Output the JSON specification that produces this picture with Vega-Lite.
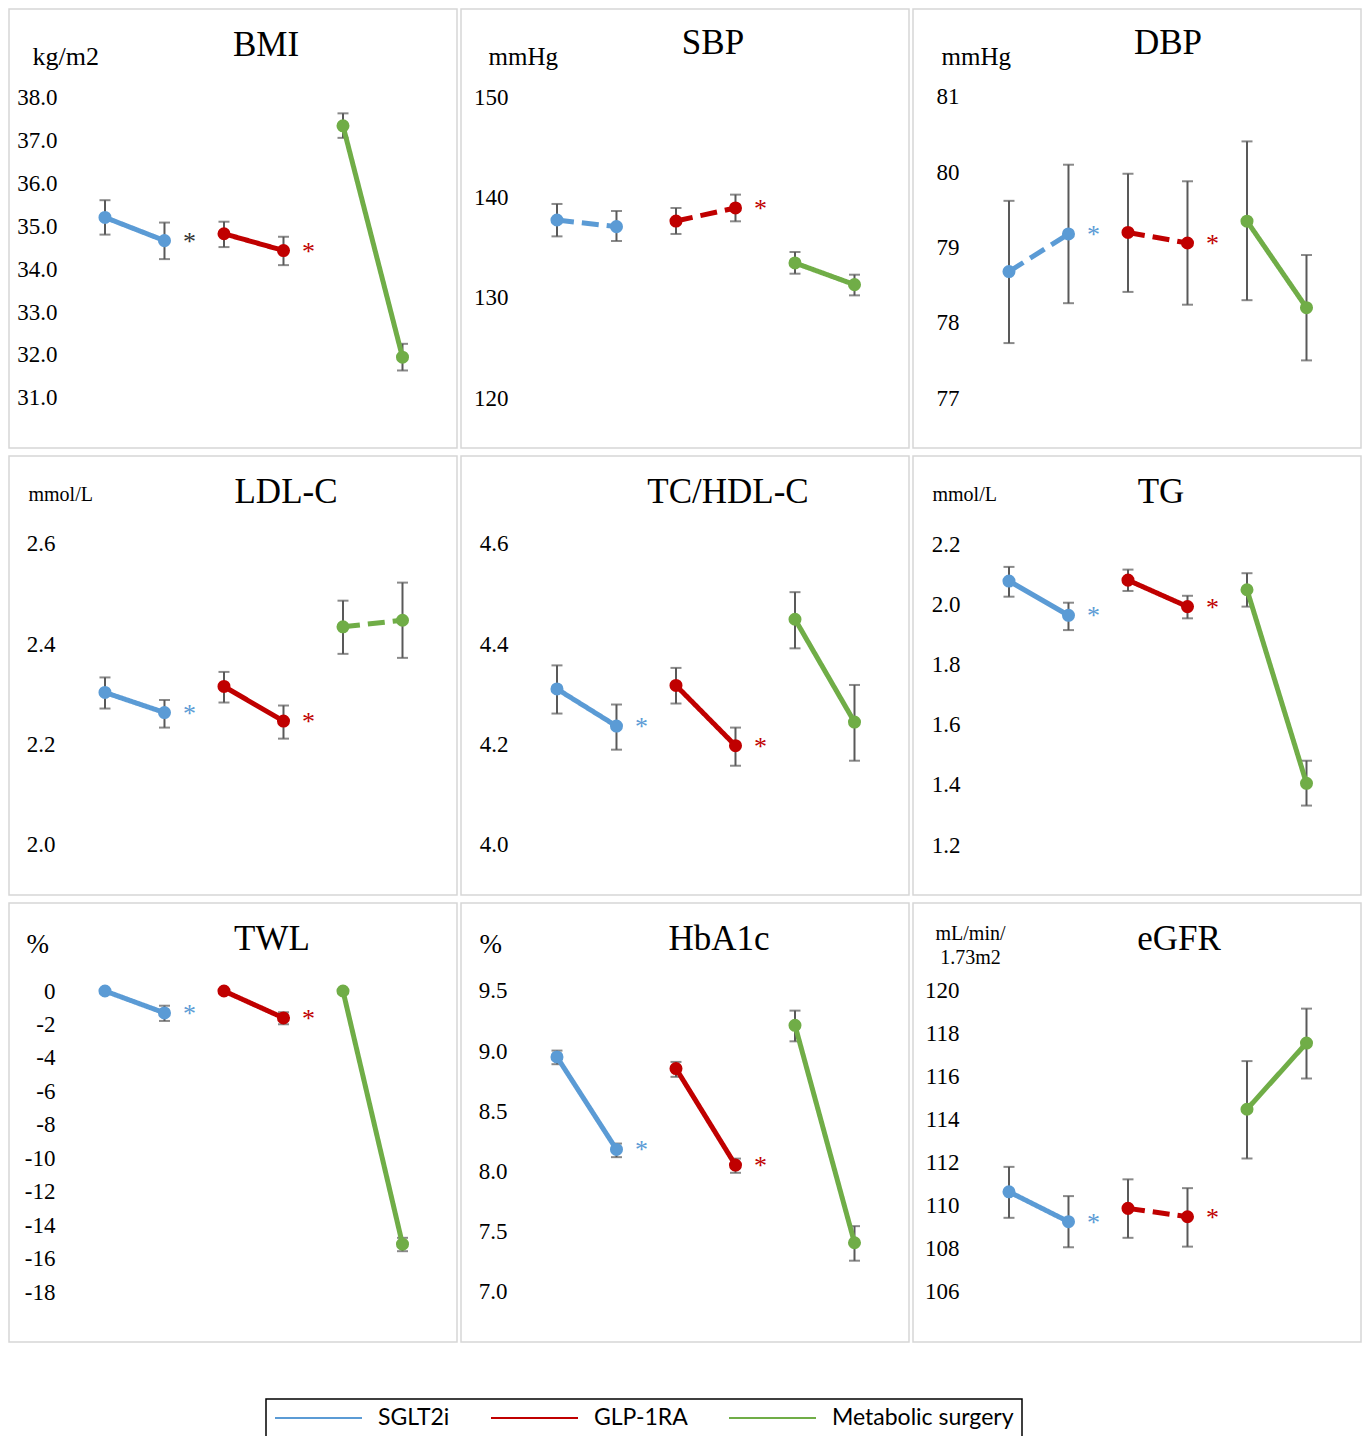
{
  "$schema": "https://vega.github.io/schema/vega-lite/v6.json",
  "background": "white",
  "padding": {"left": 8, "top": 8, "right": 0, "bottom": 0},
  "autosize": {"type": "pad"},
  "datasets": {
    "pts": [
      {"panel": "BMI", "group": "SGLT2i", "t": 1, "pos": 1, "v": 35.20, "lo": 34.80, "hi": 35.60, "pattern": "solid", "sig": true},
      {"panel": "BMI", "group": "SGLT2i", "t": 2, "pos": 2, "v": 34.66, "lo": 34.23, "hi": 35.08, "pattern": "solid", "sig": true},
      {"panel": "BMI", "group": "GLP-1RA", "t": 1, "pos": 3, "v": 34.82, "lo": 34.51, "hi": 35.10, "pattern": "solid", "sig": true},
      {"panel": "BMI", "group": "GLP-1RA", "t": 2, "pos": 4, "v": 34.43, "lo": 34.09, "hi": 34.75, "pattern": "solid", "sig": true},
      {"panel": "BMI", "group": "Metabolic surgery", "t": 1, "pos": 5, "v": 37.33, "lo": 37.05, "hi": 37.62, "pattern": "solid", "sig": false},
      {"panel": "BMI", "group": "Metabolic surgery", "t": 2, "pos": 6, "v": 31.95, "lo": 31.64, "hi": 32.26, "pattern": "solid", "sig": false},

      {"panel": "SBP", "group": "SGLT2i", "t": 1, "pos": 1, "v": 137.74, "lo": 136.11, "hi": 139.34, "pattern": "dashed", "sig": false},
      {"panel": "SBP", "group": "SGLT2i", "t": 2, "pos": 2, "v": 137.08, "lo": 135.65, "hi": 138.64, "pattern": "dashed", "sig": false},
      {"panel": "SBP", "group": "GLP-1RA", "t": 1, "pos": 3, "v": 137.64, "lo": 136.35, "hi": 138.94, "pattern": "dashed", "sig": true},
      {"panel": "SBP", "group": "GLP-1RA", "t": 2, "pos": 4, "v": 138.94, "lo": 137.61, "hi": 140.27, "pattern": "dashed", "sig": true},
      {"panel": "SBP", "group": "Metabolic surgery", "t": 1, "pos": 5, "v": 133.46, "lo": 132.39, "hi": 134.55, "pattern": "solid", "sig": false},
      {"panel": "SBP", "group": "Metabolic surgery", "t": 2, "pos": 6, "v": 131.30, "lo": 130.23, "hi": 132.29, "pattern": "solid", "sig": false},

      {"panel": "DBP", "group": "SGLT2i", "t": 1, "pos": 1, "v": 78.68, "lo": 77.73, "hi": 79.62, "pattern": "dashed", "sig": true},
      {"panel": "DBP", "group": "SGLT2i", "t": 2, "pos": 2, "v": 79.18, "lo": 78.26, "hi": 80.10, "pattern": "dashed", "sig": true},
      {"panel": "DBP", "group": "GLP-1RA", "t": 1, "pos": 3, "v": 79.20, "lo": 78.41, "hi": 79.98, "pattern": "dashed", "sig": true},
      {"panel": "DBP", "group": "GLP-1RA", "t": 2, "pos": 4, "v": 79.06, "lo": 78.24, "hi": 79.88, "pattern": "dashed", "sig": true},
      {"panel": "DBP", "group": "Metabolic surgery", "t": 1, "pos": 5, "v": 79.35, "lo": 78.30, "hi": 80.41, "pattern": "solid", "sig": false},
      {"panel": "DBP", "group": "Metabolic surgery", "t": 2, "pos": 6, "v": 78.20, "lo": 77.50, "hi": 78.90, "pattern": "solid", "sig": false},

      {"panel": "LDL-C", "group": "SGLT2i", "t": 1, "pos": 1, "v": 2.304, "lo": 2.272, "hi": 2.334, "pattern": "solid", "sig": true},
      {"panel": "LDL-C", "group": "SGLT2i", "t": 2, "pos": 2, "v": 2.264, "lo": 2.234, "hi": 2.289, "pattern": "solid", "sig": true},
      {"panel": "LDL-C", "group": "GLP-1RA", "t": 1, "pos": 3, "v": 2.316, "lo": 2.284, "hi": 2.345, "pattern": "solid", "sig": true},
      {"panel": "LDL-C", "group": "GLP-1RA", "t": 2, "pos": 4, "v": 2.247, "lo": 2.212, "hi": 2.278, "pattern": "solid", "sig": true},
      {"panel": "LDL-C", "group": "Metabolic surgery", "t": 1, "pos": 5, "v": 2.435, "lo": 2.381, "hi": 2.487, "pattern": "dashed", "sig": false},
      {"panel": "LDL-C", "group": "Metabolic surgery", "t": 2, "pos": 6, "v": 2.448, "lo": 2.373, "hi": 2.523, "pattern": "dashed", "sig": false},

      {"panel": "TC/HDL-C", "group": "SGLT2i", "t": 1, "pos": 1, "v": 4.311, "lo": 4.262, "hi": 4.358, "pattern": "solid", "sig": true},
      {"panel": "TC/HDL-C", "group": "SGLT2i", "t": 2, "pos": 2, "v": 4.237, "lo": 4.190, "hi": 4.280, "pattern": "solid", "sig": true},
      {"panel": "TC/HDL-C", "group": "GLP-1RA", "t": 1, "pos": 3, "v": 4.318, "lo": 4.282, "hi": 4.353, "pattern": "solid", "sig": true},
      {"panel": "TC/HDL-C", "group": "GLP-1RA", "t": 2, "pos": 4, "v": 4.198, "lo": 4.158, "hi": 4.234, "pattern": "solid", "sig": true},
      {"panel": "TC/HDL-C", "group": "Metabolic surgery", "t": 1, "pos": 5, "v": 4.450, "lo": 4.392, "hi": 4.504, "pattern": "solid", "sig": false},
      {"panel": "TC/HDL-C", "group": "Metabolic surgery", "t": 2, "pos": 6, "v": 4.245, "lo": 4.168, "hi": 4.319, "pattern": "solid", "sig": false},

      {"panel": "TG", "group": "SGLT2i", "t": 1, "pos": 1, "v": 2.077, "lo": 2.025, "hi": 2.124, "pattern": "solid", "sig": true},
      {"panel": "TG", "group": "SGLT2i", "t": 2, "pos": 2, "v": 1.963, "lo": 1.914, "hi": 2.005, "pattern": "solid", "sig": true},
      {"panel": "TG", "group": "GLP-1RA", "t": 1, "pos": 3, "v": 2.080, "lo": 2.044, "hi": 2.115, "pattern": "solid", "sig": true},
      {"panel": "TG", "group": "GLP-1RA", "t": 2, "pos": 4, "v": 1.992, "lo": 1.953, "hi": 2.028, "pattern": "solid", "sig": true},
      {"panel": "TG", "group": "Metabolic surgery", "t": 1, "pos": 5, "v": 2.048, "lo": 1.992, "hi": 2.103, "pattern": "solid", "sig": false},
      {"panel": "TG", "group": "Metabolic surgery", "t": 2, "pos": 6, "v": 1.405, "lo": 1.331, "hi": 1.480, "pattern": "solid", "sig": false},

      {"panel": "TWL", "group": "SGLT2i", "t": 1, "pos": 1, "v": 0, "lo": 0, "hi": 0, "pattern": "solid", "sig": true},
      {"panel": "TWL", "group": "SGLT2i", "t": 2, "pos": 2, "v": -1.31, "lo": -1.79, "hi": -0.88, "pattern": "solid", "sig": true},
      {"panel": "TWL", "group": "GLP-1RA", "t": 1, "pos": 3, "v": 0, "lo": 0, "hi": 0, "pattern": "solid", "sig": true},
      {"panel": "TWL", "group": "GLP-1RA", "t": 2, "pos": 4, "v": -1.61, "lo": -1.99, "hi": -1.27, "pattern": "solid", "sig": true},
      {"panel": "TWL", "group": "Metabolic surgery", "t": 1, "pos": 5, "v": 0, "lo": 0, "hi": 0, "pattern": "solid", "sig": false},
      {"panel": "TWL", "group": "Metabolic surgery", "t": 2, "pos": 6, "v": -15.14, "lo": -15.56, "hi": -14.76, "pattern": "solid", "sig": false},

      {"panel": "HbA1c", "group": "SGLT2i", "t": 1, "pos": 1, "v": 8.952, "lo": 8.892, "hi": 9.005, "pattern": "solid", "sig": true},
      {"panel": "HbA1c", "group": "SGLT2i", "t": 2, "pos": 2, "v": 8.184, "lo": 8.120, "hi": 8.233, "pattern": "solid", "sig": true},
      {"panel": "HbA1c", "group": "GLP-1RA", "t": 1, "pos": 3, "v": 8.856, "lo": 8.787, "hi": 8.911, "pattern": "solid", "sig": true},
      {"panel": "HbA1c", "group": "GLP-1RA", "t": 2, "pos": 4, "v": 8.054, "lo": 7.990, "hi": 8.108, "pattern": "solid", "sig": true},
      {"panel": "HbA1c", "group": "Metabolic surgery", "t": 1, "pos": 5, "v": 9.215, "lo": 9.082, "hi": 9.337, "pattern": "solid", "sig": false},
      {"panel": "HbA1c", "group": "Metabolic surgery", "t": 2, "pos": 6, "v": 7.409, "lo": 7.260, "hi": 7.547, "pattern": "solid", "sig": false},

      {"panel": "eGFR", "group": "SGLT2i", "t": 1, "pos": 1, "v": 110.66, "lo": 109.45, "hi": 111.82, "pattern": "solid", "sig": true},
      {"panel": "eGFR", "group": "SGLT2i", "t": 2, "pos": 2, "v": 109.27, "lo": 108.08, "hi": 110.46, "pattern": "solid", "sig": true},
      {"panel": "eGFR", "group": "GLP-1RA", "t": 1, "pos": 3, "v": 109.89, "lo": 108.52, "hi": 111.24, "pattern": "dashed", "sig": true},
      {"panel": "eGFR", "group": "GLP-1RA", "t": 2, "pos": 4, "v": 109.50, "lo": 108.11, "hi": 110.83, "pattern": "dashed", "sig": true},
      {"panel": "eGFR", "group": "Metabolic surgery", "t": 1, "pos": 5, "v": 114.50, "lo": 112.21, "hi": 116.74, "pattern": "solid", "sig": false},
      {"panel": "eGFR", "group": "Metabolic surgery", "t": 2, "pos": 6, "v": 117.58, "lo": 115.93, "hi": 119.18, "pattern": "solid", "sig": false}
    ],
    "ticks": [
      {"panel": "BMI", "v": 31}, {"panel": "BMI", "v": 32}, {"panel": "BMI", "v": 33}, {"panel": "BMI", "v": 34},
      {"panel": "BMI", "v": 35}, {"panel": "BMI", "v": 36}, {"panel": "BMI", "v": 37}, {"panel": "BMI", "v": 38},
      {"panel": "SBP", "v": 120}, {"panel": "SBP", "v": 130}, {"panel": "SBP", "v": 140}, {"panel": "SBP", "v": 150},
      {"panel": "DBP", "v": 77}, {"panel": "DBP", "v": 78}, {"panel": "DBP", "v": 79}, {"panel": "DBP", "v": 80}, {"panel": "DBP", "v": 81},
      {"panel": "LDL-C", "v": 2.0}, {"panel": "LDL-C", "v": 2.2}, {"panel": "LDL-C", "v": 2.4}, {"panel": "LDL-C", "v": 2.6},
      {"panel": "TC/HDL-C", "v": 4.0}, {"panel": "TC/HDL-C", "v": 4.2}, {"panel": "TC/HDL-C", "v": 4.4}, {"panel": "TC/HDL-C", "v": 4.6},
      {"panel": "TG", "v": 1.2}, {"panel": "TG", "v": 1.4}, {"panel": "TG", "v": 1.6}, {"panel": "TG", "v": 1.8}, {"panel": "TG", "v": 2.0}, {"panel": "TG", "v": 2.2},
      {"panel": "TWL", "v": 0}, {"panel": "TWL", "v": -2}, {"panel": "TWL", "v": -4}, {"panel": "TWL", "v": -6}, {"panel": "TWL", "v": -8},
      {"panel": "TWL", "v": -10}, {"panel": "TWL", "v": -12}, {"panel": "TWL", "v": -14}, {"panel": "TWL", "v": -16}, {"panel": "TWL", "v": -18},
      {"panel": "HbA1c", "v": 7.0}, {"panel": "HbA1c", "v": 7.5}, {"panel": "HbA1c", "v": 8.0}, {"panel": "HbA1c", "v": 8.5}, {"panel": "HbA1c", "v": 9.0}, {"panel": "HbA1c", "v": 9.5},
      {"panel": "eGFR", "v": 106}, {"panel": "eGFR", "v": 108}, {"panel": "eGFR", "v": 110}, {"panel": "eGFR", "v": 112},
      {"panel": "eGFR", "v": 114}, {"panel": "eGFR", "v": 116}, {"panel": "eGFR", "v": 118}, {"panel": "eGFR", "v": 120}
    ]
  },
  "columns": 3,
  "spacing": {"row": 8, "column": 4},
  "bounds": "flush",
  "resolve": {"scale": {"x": "independent", "y": "independent", "color": "shared", "strokeDash": "shared"}},
  "concat": [
    {
      "title": {"text": "BMI", "dx": 33, "offset": -54},
      "width": 448, "height": 439,
      "data": {"name": "pts"},
      "transform": [{"filter": "datum.panel === 'BMI'"}],
      "encoding": {
        "x": {"field": "pos", "type": "quantitative", "scale": {"domain": [-0.613, 6.916], "nice": false, "zero": false}, "axis": null},
        "y": {"field": "v", "type": "quantitative", "scale": {"domain": [29.837, 40.047], "nice": false, "zero": false},
              "axis": {"values": [31, 32, 33, 34, 35, 36, 37, 38], "format": ".1f", "offset": -48, "title": "kg/m2", "titleX": -25, "titleY": 55, "titleFontSize": 26}}
      },
      "layer": [
        {"data": {"name": "ticks"}, "transform": [{"filter": "datum.panel === 'BMI'"}],
         "mark": {"type": "rule", "color": "#d9d9d9", "strokeWidth": 1.5},
         "encoding": {"x": {"datum": 0.5, "type": "quantitative"}, "x2": {"datum": 6.5}}},
        {"mark": {"type": "rule", "color": "#595959", "strokeWidth": 2},
         "encoding": {"y": {"field": "lo", "type": "quantitative"}, "y2": {"field": "hi"}}},
        {"mark": {"type": "tick", "orient": "horizontal", "size": 11, "thickness": 2, "color": "#595959"},
         "encoding": {"y": {"field": "lo", "type": "quantitative"}}},
        {"mark": {"type": "tick", "orient": "horizontal", "size": 11, "thickness": 2, "color": "#595959"},
         "encoding": {"y": {"field": "hi", "type": "quantitative"}}},
        {"mark": {"type": "line", "strokeWidth": 5},
         "encoding": {
           "color": {"field": "group", "type": "nominal", "scale": {"domain": ["SGLT2i", "GLP-1RA", "Metabolic surgery"], "range": ["#5b9bd5", "#c00000", "#70ad47"]},
             "legend": {"title": null}},
           "strokeDash": {"field": "pattern", "type": "nominal", "scale": {"domain": ["solid", "dashed"], "range": [[1, 0], [17, 8]]}, "legend": null}}},
        {"mark": {"type": "point", "filled": true, "size": 170, "opacity": 1},
         "encoding": {"color": {"field": "group", "type": "nominal", "legend": null}}},
        {"transform": [{"filter": "datum.sig && datum.t === 2"}],
         "mark": {"type": "text", "text": "*", "fontSize": 26, "dx": 25, "dy": 9, "baseline": "alphabetic", "align": "center"},
         "encoding": {"color": {"condition": {"test": "datum.group === 'SGLT2i'", "value": "#333333"}, "field": "group", "type": "nominal", "legend": null}}}
      ]
    },
    {
      "title": {"text": "SBP", "dx": 28, "offset": -52},
      "width": 448, "height": 439,
      "data": {"name": "pts"},
      "transform": [{"filter": "datum.panel === 'SBP'"}],
      "encoding": {
        "x": {"field": "pos", "type": "quantitative", "scale": {"domain": [-0.613, 6.916], "nice": false, "zero": false}, "axis": null},
        "y": {"field": "v", "type": "quantitative", "scale": {"domain": [115.017, 158.771], "nice": false, "zero": false},
              "axis": {"values": [120, 130, 140, 150], "format": "d", "offset": -47, "title": "mmHg", "titleX": -20, "titleY": 55, "titleFontSize": 25}}
      },
      "layer": [
        {"data": {"name": "ticks"}, "transform": [{"filter": "datum.panel === 'SBP'"}],
         "mark": {"type": "rule", "color": "#d9d9d9", "strokeWidth": 1.5},
         "encoding": {"x": {"datum": 0.5, "type": "quantitative"}, "x2": {"datum": 6.5}}},
        {"mark": {"type": "rule", "color": "#595959", "strokeWidth": 2},
         "encoding": {"y": {"field": "lo", "type": "quantitative"}, "y2": {"field": "hi"}}},
        {"mark": {"type": "tick", "orient": "horizontal", "size": 11, "thickness": 2, "color": "#595959"},
         "encoding": {"y": {"field": "lo", "type": "quantitative"}}},
        {"mark": {"type": "tick", "orient": "horizontal", "size": 11, "thickness": 2, "color": "#595959"},
         "encoding": {"y": {"field": "hi", "type": "quantitative"}}},
        {"mark": {"type": "line", "strokeWidth": 5},
         "encoding": {"color": {"field": "group", "type": "nominal", "legend": null}, "strokeDash": {"field": "pattern", "type": "nominal", "legend": null}}},
        {"mark": {"type": "point", "filled": true, "size": 170, "opacity": 1},
         "encoding": {"color": {"field": "group", "type": "nominal", "legend": null}}},
        {"transform": [{"filter": "datum.sig && datum.t === 2"}],
         "mark": {"type": "text", "text": "*", "fontSize": 26, "dx": 25, "dy": 9, "baseline": "alphabetic", "align": "center"},
         "encoding": {"color": {"field": "group", "type": "nominal", "legend": null}}}
      ]
    },
    {
      "title": {"text": "DBP", "dx": 31, "offset": -52},
      "width": 448, "height": 439,
      "data": {"name": "pts"},
      "transform": [{"filter": "datum.panel === 'DBP'"}],
      "encoding": {
        "x": {"field": "pos", "type": "quantitative", "scale": {"domain": [-0.613, 6.916], "nice": false, "zero": false}, "axis": null},
        "y": {"field": "v", "type": "quantitative", "scale": {"domain": [76.336, 82.169], "nice": false, "zero": false},
              "axis": {"values": [77, 78, 79, 80, 81], "format": "d", "offset": -46, "title": "mmHg", "titleX": -18, "titleY": 55, "titleFontSize": 25}}
      },
      "layer": [
        {"data": {"name": "ticks"}, "transform": [{"filter": "datum.panel === 'DBP'"}],
         "mark": {"type": "rule", "color": "#d9d9d9", "strokeWidth": 1.5},
         "encoding": {"x": {"datum": 0.5, "type": "quantitative"}, "x2": {"datum": 6.5}}},
        {"mark": {"type": "rule", "color": "#595959", "strokeWidth": 2},
         "encoding": {"y": {"field": "lo", "type": "quantitative"}, "y2": {"field": "hi"}}},
        {"mark": {"type": "tick", "orient": "horizontal", "size": 11, "thickness": 2, "color": "#595959"},
         "encoding": {"y": {"field": "lo", "type": "quantitative"}}},
        {"mark": {"type": "tick", "orient": "horizontal", "size": 11, "thickness": 2, "color": "#595959"},
         "encoding": {"y": {"field": "hi", "type": "quantitative"}}},
        {"mark": {"type": "line", "strokeWidth": 5},
         "encoding": {"color": {"field": "group", "type": "nominal", "legend": null}, "strokeDash": {"field": "pattern", "type": "nominal", "legend": null}}},
        {"mark": {"type": "point", "filled": true, "size": 170, "opacity": 1},
         "encoding": {"color": {"field": "group", "type": "nominal", "legend": null}}},
        {"transform": [{"filter": "datum.sig && datum.t === 2"}],
         "mark": {"type": "text", "text": "*", "fontSize": 26, "dx": 25, "dy": 9, "baseline": "alphabetic", "align": "center"},
         "encoding": {"color": {"field": "group", "type": "nominal", "legend": null}}}
      ]
    },
    {
      "title": {"text": "LDL-C", "dx": 53, "offset": -54},
      "width": 448, "height": 439,
      "data": {"name": "pts"},
      "transform": [{"filter": "datum.panel === 'LDL-C'"}],
      "encoding": {
        "x": {"field": "pos", "type": "quantitative", "scale": {"domain": [-0.613, 6.916], "nice": false, "zero": false}, "axis": null},
        "y": {"field": "v", "type": "quantitative", "scale": {"domain": [1.9003, 2.7754], "nice": false, "zero": false},
              "axis": {"values": [2.0, 2.2, 2.4, 2.6], "format": ".1f", "offset": -46, "title": "mmol/L", "titleX": -27, "titleY": 44, "titleFontSize": 20}}
      },
      "layer": [
        {"data": {"name": "ticks"}, "transform": [{"filter": "datum.panel === 'LDL-C'"}],
         "mark": {"type": "rule", "color": "#d9d9d9", "strokeWidth": 1.5},
         "encoding": {"x": {"datum": 0.5, "type": "quantitative"}, "x2": {"datum": 6.5}}},
        {"mark": {"type": "rule", "color": "#595959", "strokeWidth": 2},
         "encoding": {"y": {"field": "lo", "type": "quantitative"}, "y2": {"field": "hi"}}},
        {"mark": {"type": "tick", "orient": "horizontal", "size": 11, "thickness": 2, "color": "#595959"},
         "encoding": {"y": {"field": "lo", "type": "quantitative"}}},
        {"mark": {"type": "tick", "orient": "horizontal", "size": 11, "thickness": 2, "color": "#595959"},
         "encoding": {"y": {"field": "hi", "type": "quantitative"}}},
        {"mark": {"type": "line", "strokeWidth": 5},
         "encoding": {"color": {"field": "group", "type": "nominal", "legend": null}, "strokeDash": {"field": "pattern", "type": "nominal", "legend": null}}},
        {"mark": {"type": "point", "filled": true, "size": 170, "opacity": 1},
         "encoding": {"color": {"field": "group", "type": "nominal", "legend": null}}},
        {"transform": [{"filter": "datum.sig && datum.t === 2"}],
         "mark": {"type": "text", "text": "*", "fontSize": 26, "dx": 25, "dy": 9, "baseline": "alphabetic", "align": "center"},
         "encoding": {"color": {"field": "group", "type": "nominal", "legend": null}}}
      ]
    },
    {
      "title": {"text": "TC/HDL-C", "dx": 43, "offset": -54},
      "width": 448, "height": 439,
      "data": {"name": "pts"},
      "transform": [{"filter": "datum.panel === 'TC/HDL-C'"}],
      "encoding": {
        "x": {"field": "pos", "type": "quantitative", "scale": {"domain": [-0.613, 6.916], "nice": false, "zero": false}, "axis": null},
        "y": {"field": "v", "type": "quantitative", "scale": {"domain": [3.9003, 4.7754], "nice": false, "zero": false},
              "axis": {"values": [4.0, 4.2, 4.4, 4.6], "format": ".1f", "offset": -47, "title": null}}
      },
      "layer": [
        {"data": {"name": "ticks"}, "transform": [{"filter": "datum.panel === 'TC/HDL-C'"}],
         "mark": {"type": "rule", "color": "#d9d9d9", "strokeWidth": 1.5},
         "encoding": {"x": {"datum": 0.5, "type": "quantitative"}, "x2": {"datum": 6.5}}},
        {"mark": {"type": "rule", "color": "#595959", "strokeWidth": 2},
         "encoding": {"y": {"field": "lo", "type": "quantitative"}, "y2": {"field": "hi"}}},
        {"mark": {"type": "tick", "orient": "horizontal", "size": 11, "thickness": 2, "color": "#595959"},
         "encoding": {"y": {"field": "lo", "type": "quantitative"}}},
        {"mark": {"type": "tick", "orient": "horizontal", "size": 11, "thickness": 2, "color": "#595959"},
         "encoding": {"y": {"field": "hi", "type": "quantitative"}}},
        {"mark": {"type": "line", "strokeWidth": 5},
         "encoding": {"color": {"field": "group", "type": "nominal", "legend": null}, "strokeDash": {"field": "pattern", "type": "nominal", "legend": null}}},
        {"mark": {"type": "point", "filled": true, "size": 170, "opacity": 1},
         "encoding": {"color": {"field": "group", "type": "nominal", "legend": null}}},
        {"transform": [{"filter": "datum.sig && datum.t === 2"}],
         "mark": {"type": "text", "text": "*", "fontSize": 26, "dx": 25, "dy": 9, "baseline": "alphabetic", "align": "center"},
         "encoding": {"color": {"field": "group", "type": "nominal", "legend": null}}}
      ]
    },
    {
      "title": {"text": "TG", "dx": 24, "offset": -54},
      "width": 448, "height": 439,
      "data": {"name": "pts"},
      "transform": [{"filter": "datum.panel === 'TG'"}],
      "encoding": {
        "x": {"field": "pos", "type": "quantitative", "scale": {"domain": [-0.613, 6.916], "nice": false, "zero": false}, "axis": null},
        "y": {"field": "v", "type": "quantitative", "scale": {"domain": [1.0339, 2.4924], "nice": false, "zero": false},
              "axis": {"values": [1.2, 1.4, 1.6, 1.8, 2.0, 2.2], "format": ".1f", "offset": -47, "title": "mmol/L", "titleX": -28, "titleY": 44, "titleFontSize": 20}}
      },
      "layer": [
        {"data": {"name": "ticks"}, "transform": [{"filter": "datum.panel === 'TG'"}],
         "mark": {"type": "rule", "color": "#d9d9d9", "strokeWidth": 1.5},
         "encoding": {"x": {"datum": 0.5, "type": "quantitative"}, "x2": {"datum": 6.5}}},
        {"mark": {"type": "rule", "color": "#595959", "strokeWidth": 2},
         "encoding": {"y": {"field": "lo", "type": "quantitative"}, "y2": {"field": "hi"}}},
        {"mark": {"type": "tick", "orient": "horizontal", "size": 11, "thickness": 2, "color": "#595959"},
         "encoding": {"y": {"field": "lo", "type": "quantitative"}}},
        {"mark": {"type": "tick", "orient": "horizontal", "size": 11, "thickness": 2, "color": "#595959"},
         "encoding": {"y": {"field": "hi", "type": "quantitative"}}},
        {"mark": {"type": "line", "strokeWidth": 5},
         "encoding": {"color": {"field": "group", "type": "nominal", "legend": null}, "strokeDash": {"field": "pattern", "type": "nominal", "legend": null}}},
        {"mark": {"type": "point", "filled": true, "size": 170, "opacity": 1},
         "encoding": {"color": {"field": "group", "type": "nominal", "legend": null}}},
        {"transform": [{"filter": "datum.sig && datum.t === 2"}],
         "mark": {"type": "text", "text": "*", "fontSize": 26, "dx": 25, "dy": 9, "baseline": "alphabetic", "align": "center"},
         "encoding": {"color": {"field": "group", "type": "nominal", "legend": null}}}
      ]
    },
    {
      "title": {"text": "TWL", "dx": 39, "offset": -54},
      "width": 448, "height": 439,
      "data": {"name": "pts"},
      "transform": [{"filter": "datum.panel === 'TWL'"}],
      "encoding": {
        "x": {"field": "pos", "type": "quantitative", "scale": {"domain": [-0.613, 6.916], "nice": false, "zero": false}, "axis": null},
        "y": {"field": "v", "type": "quantitative", "scale": {"domain": [-20.99, 5.2625], "nice": false, "zero": false},
              "axis": {"values": [0, -2, -4, -6, -8, -10, -12, -14, -16, -18], "labelExpr": "'' + datum.value", "offset": -46, "title": "%", "titleX": -29, "titleY": 49, "titleFontSize": 27}}
      },
      "layer": [
        {"data": {"name": "ticks"}, "transform": [{"filter": "datum.panel === 'TWL'"}],
         "mark": {"type": "rule", "color": "#d9d9d9", "strokeWidth": 1.5},
         "encoding": {"x": {"datum": 0.5, "type": "quantitative"}, "x2": {"datum": 6.5}}},
        {"mark": {"type": "rule", "color": "#595959", "strokeWidth": 2},
         "encoding": {"y": {"field": "lo", "type": "quantitative"}, "y2": {"field": "hi"}}},
        {"mark": {"type": "tick", "orient": "horizontal", "size": 11, "thickness": 2, "color": "#595959"},
         "encoding": {"y": {"field": "lo", "type": "quantitative"}}},
        {"mark": {"type": "tick", "orient": "horizontal", "size": 11, "thickness": 2, "color": "#595959"},
         "encoding": {"y": {"field": "hi", "type": "quantitative"}}},
        {"mark": {"type": "line", "strokeWidth": 5},
         "encoding": {"color": {"field": "group", "type": "nominal", "legend": null}, "strokeDash": {"field": "pattern", "type": "nominal", "legend": null}}},
        {"mark": {"type": "point", "filled": true, "size": 170, "opacity": 1},
         "encoding": {"color": {"field": "group", "type": "nominal", "legend": null}}},
        {"transform": [{"filter": "datum.sig && datum.t === 2"}],
         "mark": {"type": "text", "text": "*", "fontSize": 26, "dx": 25, "dy": 9, "baseline": "alphabetic", "align": "center"},
         "encoding": {"color": {"field": "group", "type": "nominal", "legend": null}}}
      ]
    },
    {
      "title": {"text": "HbA1c", "dx": 34, "offset": -54},
      "width": 448, "height": 439,
      "data": {"name": "pts"},
      "transform": [{"filter": "datum.panel === 'HbA1c'"}],
      "encoding": {
        "x": {"field": "pos", "type": "quantitative", "scale": {"domain": [-0.613, 6.916], "nice": false, "zero": false}, "axis": null},
        "y": {"field": "v", "type": "quantitative", "scale": {"domain": [6.5847, 10.2309], "nice": false, "zero": false},
              "axis": {"values": [7.0, 7.5, 8.0, 8.5, 9.0, 9.5], "format": ".1f", "offset": -46, "title": "%", "titleX": -28, "titleY": 49, "titleFontSize": 27}}
      },
      "layer": [
        {"data": {"name": "ticks"}, "transform": [{"filter": "datum.panel === 'HbA1c'"}],
         "mark": {"type": "rule", "color": "#d9d9d9", "strokeWidth": 1.5},
         "encoding": {"x": {"datum": 0.5, "type": "quantitative"}, "x2": {"datum": 6.5}}},
        {"mark": {"type": "rule", "color": "#595959", "strokeWidth": 2},
         "encoding": {"y": {"field": "lo", "type": "quantitative"}, "y2": {"field": "hi"}}},
        {"mark": {"type": "tick", "orient": "horizontal", "size": 11, "thickness": 2, "color": "#595959"},
         "encoding": {"y": {"field": "lo", "type": "quantitative"}}},
        {"mark": {"type": "tick", "orient": "horizontal", "size": 11, "thickness": 2, "color": "#595959"},
         "encoding": {"y": {"field": "hi", "type": "quantitative"}}},
        {"mark": {"type": "line", "strokeWidth": 5},
         "encoding": {"color": {"field": "group", "type": "nominal", "legend": null}, "strokeDash": {"field": "pattern", "type": "nominal", "legend": null}}},
        {"mark": {"type": "point", "filled": true, "size": 170, "opacity": 1},
         "encoding": {"color": {"field": "group", "type": "nominal", "legend": null}}},
        {"transform": [{"filter": "datum.sig && datum.t === 2"}],
         "mark": {"type": "text", "text": "*", "fontSize": 26, "dx": 25, "dy": 9, "baseline": "alphabetic", "align": "center"},
         "encoding": {"color": {"field": "group", "type": "nominal", "legend": null}}}
      ]
    },
    {
      "title": {"text": "eGFR", "dx": 42, "offset": -54},
      "width": 448, "height": 439,
      "data": {"name": "pts"},
      "transform": [{"filter": "datum.panel === 'eGFR'"}],
      "encoding": {
        "x": {"field": "pos", "type": "quantitative", "scale": {"domain": [-0.613, 6.916], "nice": false, "zero": false}, "axis": null},
        "y": {"field": "v", "type": "quantitative", "scale": {"domain": [103.674, 124.093], "nice": false, "zero": false},
              "axis": {"values": [106, 108, 110, 112, 114, 116, 118, 120], "format": "d", "offset": -46, "title": ["mL/min/", "1.73m2"], "titleX": 11, "titleY": 36, "titleAlign": "center", "titleFontSize": 20, "titleLineHeight": 24}}
      },
      "layer": [
        {"data": {"name": "ticks"}, "transform": [{"filter": "datum.panel === 'eGFR'"}],
         "mark": {"type": "rule", "color": "#d9d9d9", "strokeWidth": 1.5},
         "encoding": {"x": {"datum": 0.5, "type": "quantitative"}, "x2": {"datum": 6.5}}},
        {"mark": {"type": "rule", "color": "#595959", "strokeWidth": 2},
         "encoding": {"y": {"field": "lo", "type": "quantitative"}, "y2": {"field": "hi"}}},
        {"mark": {"type": "tick", "orient": "horizontal", "size": 11, "thickness": 2, "color": "#595959"},
         "encoding": {"y": {"field": "lo", "type": "quantitative"}}},
        {"mark": {"type": "tick", "orient": "horizontal", "size": 11, "thickness": 2, "color": "#595959"},
         "encoding": {"y": {"field": "hi", "type": "quantitative"}}},
        {"mark": {"type": "line", "strokeWidth": 5},
         "encoding": {"color": {"field": "group", "type": "nominal", "legend": null}, "strokeDash": {"field": "pattern", "type": "nominal", "legend": null}}},
        {"mark": {"type": "point", "filled": true, "size": 170, "opacity": 1},
         "encoding": {"color": {"field": "group", "type": "nominal", "legend": null}}},
        {"transform": [{"filter": "datum.sig && datum.t === 2"}],
         "mark": {"type": "text", "text": "*", "fontSize": 26, "dx": 25, "dy": 9, "baseline": "alphabetic", "align": "center"},
         "encoding": {"color": {"field": "group", "type": "nominal", "legend": null}}}
      ]
    }
  ],
  "config": {
    "font": "Liberation Serif",
    "view": {"stroke": "#d6d6d6", "strokeWidth": 1.5},
    "title": {"font": "Liberation Serif", "fontSize": 35, "fontWeight": "normal", "color": "#000000", "anchor": "middle", "frame": "group", "baseline": "alphabetic"},
    "axisY": {"grid": false, "domain": false, "ticks": true, "tickSize": 0, "tickOpacity": 0, "labelPadding": 0, "labelOverlap": false, "zindex": 1,
      "labelFont": "Liberation Serif", "labelFontSize": 23, "labelColor": "#000000",
      "titleFont": "Liberation Serif", "titleFontWeight": "normal", "titleColor": "#000000", "titleAngle": 0, "titleBaseline": "alphabetic", "titleAlign": "left"},
    "legend": {"orient": "none", "legendX": 257, "legendY": 1390, "direction": "horizontal", "symbolType": "stroke", "symbolSize": 7569, "symbolStrokeWidth": 2,
      "labelFont": "Lato", "labelFontSize": 23, "labelColor": "#000000", "labelOffset": 15, "labelLimit": 0, "columnPadding": 40, "padding": 8,
      "strokeColor": "#000000", "strokeWidth": 1.5, "clipHeight": 22}
  }
}
